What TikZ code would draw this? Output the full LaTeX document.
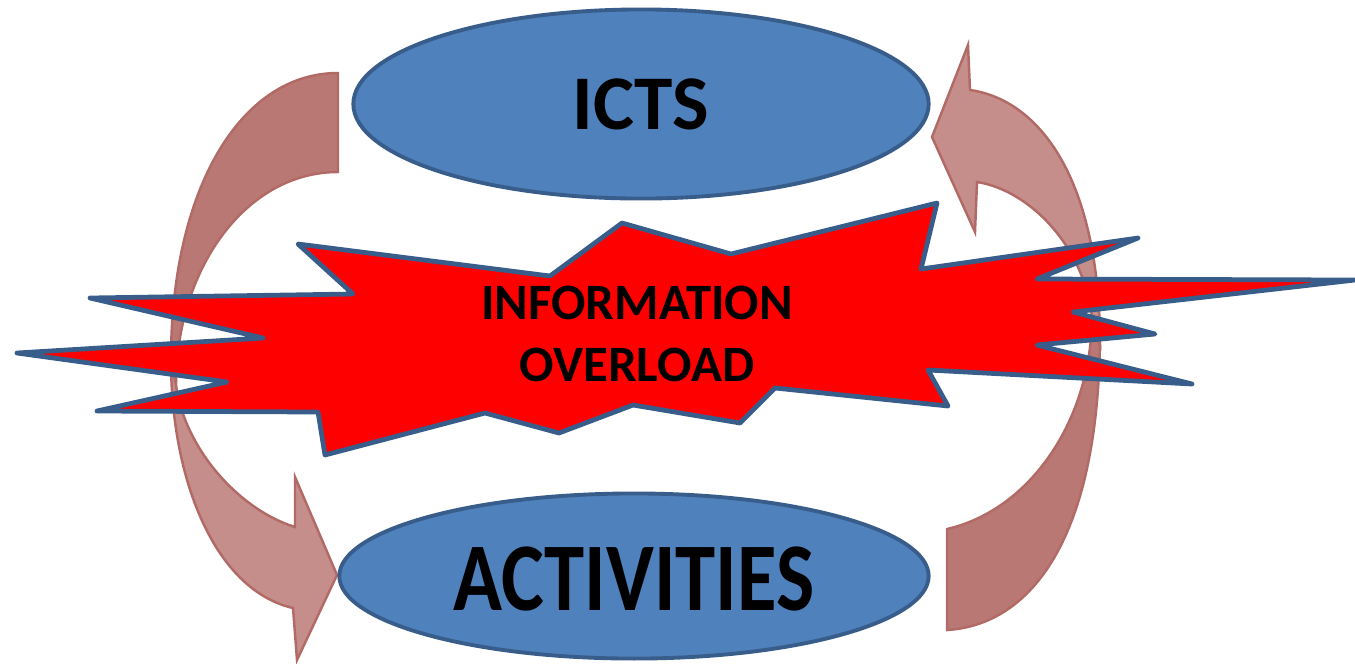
\documentclass[tikz,border=0pt]{standalone}
\usepackage{fontspec}
\usepackage{graphicx}
\setmainfont{Carlito}
\usetikzlibrary{shapes.geometric}
\definecolor{ovlBlue}{RGB}{79,129,189}
\definecolor{ovlNavy}{RGB}{56,93,138}
\definecolor{ovlRed}{RGB}{255,0,0}
\definecolor{ovlRoseD}{RGB}{186,120,117}
\definecolor{ovlRoseL}{RGB}{198,142,139}
\definecolor{ovlRoseE}{RGB}{178,106,102}

\begin{document}
\begin{tikzpicture}[
    x=0.01cm, y=-0.01cm,
    blob/.style={ellipse, draw=ovlNavy, fill=ovlBlue, line width=1.1pt, inner sep=0pt},
    bandD/.style={fill=ovlRoseD, draw=ovlRoseE, line width=0.7pt},
    bandL/.style={fill=ovlRoseL, draw=ovlRoseE, line width=0.7pt},
    burst/.style={fill=ovlRed, draw=ovlNavy, line width=1.35pt, line join=round}
]
\useasboundingbox (0,0) rectangle (1355,663);
\draw[bandD] (338,73) .. controls (240,73) and (171,190) .. (171,360) -- (176,385) .. controls (176,270) and (245,172) .. (338,172) -- cycle;
\draw[bandL] (171,360) .. controls (171,480) and (215,590) .. (293,608) -- (297,660) -- (337,575) -- (295,477) -- (295,527) .. controls (240,510) and (185,450) .. (176,385) -- cycle;
\draw[bandD] (947,630) .. controls (1030,625) and (1100,540) .. (1100,330) -- (1092,315) .. controls (1092,420) and (1030,510) .. (947,529) -- cycle;
\draw[bandL] (1100,345) .. controls (1100,180) and (1040,100) .. (970,90) -- (968,45) -- (932,137) -- (975,232) -- (977,182) .. controls (1030,190) and (1090,250) .. (1093,330) -- cycle;
\node[blob, minimum width=5.75cm, minimum height=1.89cm, font=\bfseries\fontsize{22}{26}\selectfont] (icts) at (641,104) {ICTS};
\node[blob, minimum width=5.89cm, minimum height=1.65cm, text height=0.70cm, font=\bfseries\fontsize{23}{28}\selectfont] (act) at (634,576) {\scalebox{1}[1.2]{ACTIVITIES}};
\draw[burst] (622,223) -- (731,254) -- (937,203) -- (921,269) -- (1138,238) -- (1037,279) -- (1355,280) -- (1073,312) -- (1155,334) -- (1037,345) -- (1192,384) -- (928,370) -- (948,406) -- (775,388) -- (740,423) -- (633,405) -- (559,433) -- (485,413) -- (325,455) -- (318,412) -- (97,411) -- (227,382) -- (17,353) -- (263,338) -- (90,298) -- (353,294) -- (298,244) -- (550,276) -- cycle;
\node[align=center, font=\bfseries\fontsize{14.5}{17.6}\selectfont] (ovl) at (637,334) {INFORMATION\\OVERLOAD};
\end{tikzpicture}
\end{document}
